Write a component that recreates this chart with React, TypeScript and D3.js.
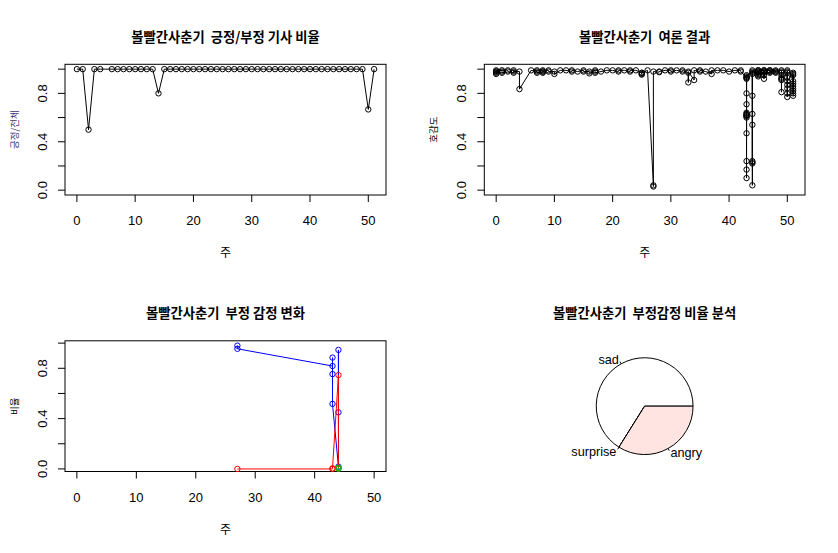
import React, { useEffect, useRef } from 'react';
import * as d3 from 'd3';

// 긍정/전체 ratio per week (week 5 has no articles)
const posWeeks = [0, 1, 2, 3, 4, 6, 7, 8, 9, 10, 11, 12, 13, 14, 15, 16, 17, 18, 19, 20, 21, 22, 23, 24, 25,
  26, 27, 28, 29, 30, 31, 32, 33, 34, 35, 36, 37, 38, 39, 40, 41, 42, 43, 44, 45, 46, 47, 48, 49, 50, 51];
const posRatio = [1, 1, 0.5, 1, 1, 1, 1, 1, 1, 1, 1, 1, 1, 0.8, 1, 1, 1, 1, 1, 1, 1, 1, 1, 1, 1,
  1, 1, 1, 1, 1, 1, 1, 1, 1, 1, 1, 1, 1, 1, 1, 1, 1, 1, 1, 1, 1, 1, 1, 1, 0.667, 1];

// 호감도 scores, several articles per week
const opinionWeeks = [0, 1, 2, 3, 4, 6, 7, 8, 9, 10, 11, 12, 13, 14, 15, 16, 17, 18, 19, 20, 21, 22, 23, 24, 25,
  26, 27, 28, 29, 30, 31, 32, 33, 34, 35, 36, 37, 38, 39, 40, 41, 42, 43, 44, 45, 46, 47, 48, 49, 50, 51];
const opinionScores = [
  [0.98, 0.97, 0.99, 0.96, 0.98], [0.99, 0.98, 0.97], [0.99, 0.98], [0.97, 0.99, 0.98], [0.98, 0.835],
  [0.99], [0.98, 0.99, 0.97], [0.98, 0.97, 0.99, 0.98], [0.99, 0.98], [0.98, 0.96],
  [0.99], [0.99], [0.98, 0.99], [0.98], [0.99, 0.98],
  [0.98, 0.965], [0.99, 0.98, 0.97], [0.98], [0.99], [0.99],
  [0.98, 0.99], [0.99], [0.98, 0.99], [0.99], [0.97, 0.96, 0.955, 0.97],
  [0.99], [0.04, 0.03, 0.98], [0.975, 0.98], [0.99], [0.99, 0.98],
  [0.99], [0.98, 0.99], [0.97, 0.89, 0.98], [0.91, 0.99], [0.98, 0.99],
  [0.98], [0.96, 0.99], [0.99], [0.99], [0.98],
  [0.99], [0.99, 0.98],
  [0.93, 0.94, 0.8, 0.71, 0.62, 0.63, 0.61, 0.6, 0.47, 0.92, 0.24, 0.17, 0.1, 0.62, 0.64, 0.93, 0.95],
  [0.97, 0.78, 0.23, 0.63, 0.99, 0.54, 0.22, 0.24, 0.04, 0.96, 0.98],
  [0.97, 0.99, 0.95, 0.98, 0.96, 0.99, 0.94, 0.98],
  [0.99, 0.92, 0.98, 0.97, 0.99, 0.95, 0.98],
  [0.99, 0.98, 0.97, 0.99, 0.98],
  [0.98, 0.99, 0.97, 0.98],
  [0.99, 0.91, 0.81, 0.93, 0.97, 0.98, 0.95, 0.92],
  [0.97, 0.77, 0.84, 0.99, 0.8, 0.87, 0.93, 0.98, 0.9],
  [0.97, 0.78, 0.82, 0.86, 0.9, 0.96, 0.8, 0.84, 0.88, 0.95]
];

// 부정 감정 비율
const sadWeeks = [27, 27, 43, 43, 43, 43, 44, 44, 44];
const sadRatio = [0.98, 0.955, 0.818, 0.885, 0.754, 0.517, 0.018, 0.946, 0.45];
const angryWeeks = [27, 43, 43, 44, 44];
const angryRatio = [0.0, 0.0, 0.005, 0.746, 0.005];
const surpriseWeeks = [44, 44];
const surpriseRatio = [0.0, 0.01];

const pieLabels = ['sad', 'surprise', 'angry'];
const pieValues = [0.661, 0, 0.339];
const pieColors = ['#ffffff', '#add8e6', '#ffe4e1'];

const W = 838;
const H = 553;
const NUM_FONT = "'Liberation Sans', Arial, sans-serif";
const KR_FONT = "'Noto Sans CJK KR', sans-serif";

const App = () => {
  const svgRef = useRef<SVGSVGElement>(null);

  useEffect(() => {
    const svg = d3.select(svgRef.current);
    svg.selectAll('*').remove();

    const cols = [[65, 386], [484.3, 805]];
    const rows = [[64.3, 195], [340.8, 471.5]];

    const title = (x, y, s) => svg.append('text').attr('x', x).attr('y', y).attr('text-anchor', 'middle')
      .attr('font-family', KR_FONT).attr('font-weight', 'bold').attr('font-size', 13.3)
      .style('white-space', 'pre').text(s);

    const frame = (col, row, x, y, xTicks, yTicks, main, ylab, ylabColor) => {
      const [l, r] = cols[col];
      const [t, b] = rows[row];
      const g = svg.append('g');
      g.append('rect').attr('x', l).attr('y', t).attr('width', r - l).attr('height', b - t)
        .attr('fill', 'none').attr('stroke', '#000').attr('stroke-width', 1);
      xTicks.forEach(v => {
        g.append('line').attr('x1', x(v)).attr('x2', x(v)).attr('y1', b).attr('y2', b + 7).attr('stroke', '#000');
        g.append('text').attr('x', x(v)).attr('y', b + 30).attr('text-anchor', 'middle')
          .attr('font-family', NUM_FONT).attr('font-size', 13).text(v);
      });
      yTicks.forEach((v, i) => {
        g.append('line').attr('x1', l - 7).attr('x2', l).attr('y1', y(v)).attr('y2', y(v)).attr('stroke', '#000');
        if (i % 2 === 0) {
          g.append('text').attr('transform', `translate(${l - 18},${y(v)}) rotate(-90)`)
            .attr('text-anchor', 'middle').attr('font-family', NUM_FONT).attr('font-size', 13)
            .text(d3.format('.1f')(v));
        }
      });
      title((l + r) / 2, t - 22.5, main);
      g.append('text').attr('x', (l + r) / 2).attr('y', b + 62).attr('text-anchor', 'middle')
        .attr('font-family', KR_FONT).attr('font-size', 12).text('주');
      g.append('text').attr('transform', `translate(${l - 47.5},${(t + b) / 2}) rotate(-90)`)
        .attr('text-anchor', 'middle').attr('font-family', KR_FONT).attr('font-size', 9.5)
        .attr('fill', ylabColor).text(ylab);
      return g;
    };

    const series = (g, xs, ys, x, y, color) => {
      const pts = xs.map((v, i) => [x(v), y(ys[i])]);
      g.append('path').attr('d', d3.line()(pts)).attr('fill', 'none').attr('stroke', color).attr('stroke-width', 1);
      g.selectAll(null).data(pts).enter().append('circle')
        .attr('cx', d => d[0]).attr('cy', d => d[1]).attr('r', 2.7)
        .attr('fill', 'none').attr('stroke', color).attr('stroke-width', 1);
    };

    const pad = (lo, hi) => [lo - (hi - lo) * 0.04, hi + (hi - lo) * 0.04];
    const yTicks = [0, 0.2, 0.4, 0.6, 0.8, 1.0];
    const xTicks = [0, 10, 20, 30, 40, 50];

    // 1. 긍정/부정 기사 비율
    const x1 = d3.scaleLinear().domain(pad(0, 51)).range(cols[0]);
    const y1 = d3.scaleLinear().domain(pad(0, 1)).range([rows[0][1], rows[0][0]]);
    const g1 = frame(0, 0, x1, y1, xTicks, yTicks, '볼빨간사춘기  긍정/부정 기사 비율', '긍정/전체', '#3b2f7a');
    series(g1, posWeeks, posRatio, x1, y1, '#000');

    // 2. 여론 결과
    const x2 = d3.scaleLinear().domain(pad(0, 51)).range(cols[1]);
    const y2 = d3.scaleLinear().domain(pad(0, 1)).range([rows[0][1], rows[0][0]]);
    const g2 = frame(1, 0, x2, y2, xTicks, yTicks, '볼빨간사춘기  여론 결과', '호감도', '#000');
    const opX = opinionWeeks.flatMap((w, i) => opinionScores[i].map(() => w));
    const opY = opinionScores.flat();
    series(g2, opX, opY, x2, y2, '#000');

    // 3. 부정 감정 변화
    const x3 = d3.scaleLinear().domain(pad(0, 50)).range(cols[0]);
    const [sLo, sHi] = d3.extent(sadRatio);
    const y3 = d3.scaleLinear().domain(pad(sLo, sHi)).range([rows[1][1], rows[1][0]]);
    const g3 = frame(0, 1, x3, y3, xTicks, yTicks, '볼빨간사춘기  부정 감정 변화', '비율', '#000');
    series(g3, sadWeeks, sadRatio, x3, y3, '#0000ff');
    series(g3, angryWeeks, angryRatio, x3, y3, '#ff0000');
    series(g3, surpriseWeeks, surpriseRatio, x3, y3, '#00c000');

    // 4. 부정감정 비율 분석 (pie, counter-clockwise from 3 o'clock like R)
    const [pl, pr] = cols[1];
    const [pt, pb] = rows[1];
    const cx = (pl + pr) / 2;
    const cy = (pt + pb) / 2;
    const unit = (pb - pt) / 2.16;
    const rad = 0.8 * unit;
    const g4 = svg.append('g').attr('transform', `translate(${cx},${cy})`);
    const arcs = d3.pie<number>().sort(null).startAngle(Math.PI / 2).endAngle(Math.PI / 2 - 2 * Math.PI)(pieValues);
    const arc = d3.arc().innerRadius(0).outerRadius(rad);
    g4.selectAll(null).data(arcs).enter().append('path')
      .attr('d', d => arc(d as any))
      .attr('fill', (d, i) => pieColors[i]).attr('stroke', '#000').attr('stroke-width', 1);
    arcs.forEach((d, i) => {
      const m = (d.startAngle + d.endAngle) / 2;
      const sx = Math.sin(m);
      const cyy = -Math.cos(m);
      g4.append('line').attr('x1', rad * sx).attr('y1', rad * cyy)
        .attr('x2', 1.05 * rad * sx).attr('y2', 1.05 * rad * cyy).attr('stroke', '#000');
      g4.append('text').attr('x', 1.1 * rad * sx).attr('y', 1.1 * rad * cyy).attr('dy', '0.35em')
        .attr('text-anchor', sx < 0 ? 'end' : 'start')
        .attr('font-family', NUM_FONT).attr('font-size', 12.7).text(pieLabels[i]);
    });
    title(cx, pt - 22.5, '볼빨간사춘기  부정감정 비율 분석');
  }, []);

  return (
    <svg ref={svgRef} width={W} height={H}
      style={{ position: 'absolute', left: 0, top: 0, background: '#fff' }}></svg>
  );
};

export default App;
